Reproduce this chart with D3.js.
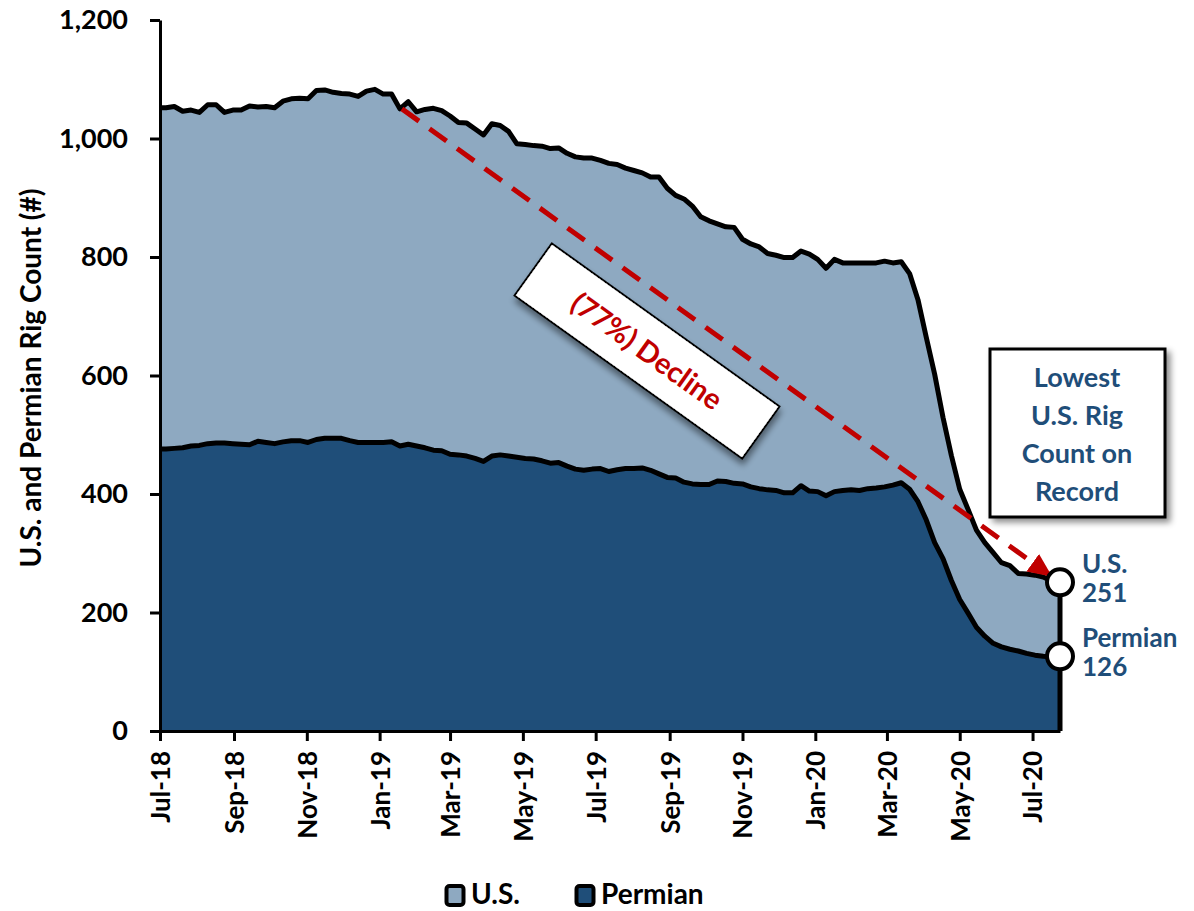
<!DOCTYPE html>
<html>
<head>
<meta charset="utf-8">
<script src="https://cdn.jsdelivr.net/npm/d3@7"></script>
<style>
  html, body { margin: 0; padding: 0; background: #fff; }
  svg { display: block; font-family: Lato, "Open Sans", sans-serif; font-weight: 700; }
</style>
</head>
<body>
<svg id="chart" width="1194" height="911"></svg>
<script>
// ---------------- DATA ----------------
// Weekly (Friday) rig counts, 29-Jun-2018 .. 24-Jul-2020
const weekStart = "2018-06-29";
const weekEnd = "2020-07-24";

const usRigs = [
  1052,
  1052, 1054, 1046, 1048,
  1044, 1057, 1057, 1044, 1048,
  1048, 1055, 1053, 1054,
  1052, 1063, 1067, 1068,
  1067, 1081, 1082, 1078, 1076,
  1075, 1071, 1080, 1083,
  1075, 1075, 1050, 1062,
  1045, 1049, 1051, 1047,
  1038, 1027, 1026, 1016, 1006,
  1025, 1022, 1012, 991,
  990, 988, 987, 983, 984,
  975, 969, 967, 967,
  963, 958, 956, 950,
  946, 942, 935, 935, 916,
  904, 898, 886, 868,
  861, 856, 851, 850,
  830, 822, 817, 806, 803,
  799, 799, 810, 805,
  796, 781, 796, 790, 790,
  790, 790, 790, 793,
  790, 792, 772, 728,
  664, 602, 529, 465,
  408, 374, 339, 318, 301,
  284, 279, 266, 265,
  263, 260, 253, 251
];

const permianRigs = [
  476,
  476, 477, 478, 481,
  482, 485, 486, 486, 485,
  484, 483, 489, 487,
  485, 488, 490, 490,
  487, 492, 494, 494, 494,
  490, 487, 487, 487,
  487, 488, 481, 484,
  481, 478, 474, 473,
  467, 466, 464, 460, 455,
  464, 466, 464, 462,
  460, 459, 456, 452, 453,
  447, 442, 440, 442,
  443, 438, 441, 443,
  443, 444, 440, 434, 428,
  427, 420, 417, 416,
  416, 422, 421, 418,
  417, 412, 409, 407, 406,
  402, 402, 414, 405,
  404, 397, 404, 406, 407,
  406, 409, 410, 412,
  415, 419, 408, 387,
  356, 318, 291, 254,
  222, 199, 175, 160, 148,
  142, 138, 135, 131,
  128, 126, 125, 126
];

const yTickValues = [0, 200, 400, 600, 800, 1000, 1200];
const xAxisStart = "2018-07-01";
const xTickMonthStep = 2;
const seriesNames = ["U.S.", "Permian"];
const seriesColors = ["#8EA9C1", "#1F4E79"];
const declineLabel = "(77%) Decline";
const recordLines = ["Lowest", "U.S. Rig", "Count on", "Record"];
const endLabels = [["U.S.", "251"], ["Permian", "126"]];
const yTitle = "U.S. and Permian Rig Count (#)";

// ---------------- BUILD ----------------
(function () {
const parse = d3.timeParse("%Y-%m-%d");
const dates = d3.timeFriday.range(parse(weekStart), d3.timeDay.offset(parse(weekEnd), 1));
const n = Math.min(dates.length, usRigs.length, permianRigs.length);
const data = d3.range(n).map(i => ({ date: dates[i], us: usRigs[i], permian: permianRigs[i] }));

const svg = d3.select("#chart");
const pLeft = 160, pRight = 1060, pTop = 20, pBottom = 731;

const x = d3.scaleTime().domain([parse(xAxisStart), parse(weekEnd)]).range([pLeft, pRight]);
const y = d3.scaleLinear().domain([0, 1200]).range([pBottom, pTop]);

const defs = svg.append("defs");
defs.append("clipPath").attr("id", "plotClip")
  .append("rect").attr("x", pLeft).attr("y", 0).attr("width", pRight - pLeft + 10).attr("height", pBottom);
const sh = defs.append("filter").attr("id", "shadow").attr("x", "-20%").attr("y", "-20%").attr("width", "140%").attr("height", "140%");
sh.append("feDropShadow").attr("dx", 4).attr("dy", 4).attr("stdDeviation", 3)
  .attr("flood-color", "#000").attr("flood-opacity", 0.45);
defs.append("marker").attr("id", "arrowHead")
  .attr("viewBox", "0 0 10 10").attr("refX", 9).attr("refY", 5)
  .attr("markerUnits", "userSpaceOnUse").attr("markerWidth", 24).attr("markerHeight", 24)
  .attr("orient", "auto")
  .append("path").attr("d", "M0,0.5 L10,5 L0,9.5 Z").attr("fill", "#C00000");

const plot = svg.append("g").attr("clip-path", "url(#plotClip)");

const areaUS = d3.area().x(d => x(d.date)).y0(y(0)).y1(d => y(d.us));
const areaP = d3.area().x(d => x(d.date)).y0(y(0)).y1(d => y(d.permian));
const lineUS = d3.line().x(d => x(d.date)).y(d => y(d.us));
const lineP = d3.line().x(d => x(d.date)).y(d => y(d.permian));

plot.append("path").datum(data).attr("d", areaUS).attr("fill", seriesColors[0]);
plot.append("path").datum(data).attr("d", areaP).attr("fill", seriesColors[1]);
plot.append("path").datum(data).attr("d", lineUS).attr("fill", "none")
  .attr("stroke", "#000").attr("stroke-width", 5).attr("stroke-linejoin", "round");
plot.append("path").datum(data).attr("d", lineP).attr("fill", "none")
  .attr("stroke", "#000").attr("stroke-width", 5).attr("stroke-linejoin", "round");

const last = data[data.length - 1];
plot.append("line")
  .attr("x1", x(last.date)).attr("x2", x(last.date))
  .attr("y1", y(last.us)).attr("y2", y(0))
  .attr("stroke", "#000").attr("stroke-width", 5);

// Axes
const yAxis = svg.append("g").attr("transform", `translate(${pLeft},0)`)
  .call(d3.axisLeft(y).tickValues(yTickValues).tickFormat(d3.format(",")).tickSize(10).tickSizeOuter(0).tickPadding(22));
yAxis.select(".domain").attr("stroke", "#000").attr("stroke-width", 3);
yAxis.selectAll(".tick line").attr("stroke", "#000").attr("stroke-width", 3);
yAxis.selectAll(".tick text").attr("fill", "#000").style("font-size", "27px").style("font-weight", 700)
  .style("font-family", "Lato, sans-serif");

const xTicks = d3.timeMonth.range(parse(xAxisStart), d3.timeDay.offset(parse(weekEnd), 1), xTickMonthStep);
const xAxis = svg.append("g").attr("transform", `translate(0,${pBottom})`)
  .call(d3.axisBottom(x).tickValues(xTicks).tickFormat(d3.timeFormat("%b-%y")).tickSize(10).tickSizeOuter(0));
xAxis.select(".domain").attr("stroke", "#000").attr("stroke-width", 3);
xAxis.selectAll(".tick line").attr("stroke", "#000").attr("stroke-width", 3);
xAxis.selectAll(".tick text")
  .attr("transform", "rotate(-90)").attr("x", -20).attr("y", 0).attr("dy", "0.36em")
  .style("text-anchor", "end").attr("fill", "#000")
  .style("font-size", "26px").style("font-weight", 700).style("font-family", "Lato, sans-serif");

// Y title
svg.append("text")
  .attr("transform", `translate(41,378) rotate(-90)`)
  .attr("text-anchor", "middle")
  .style("font-size", "28px").attr("fill", "#000")
  .text(yTitle);

// Decline arrow
const startPt = data[29];
const ax1 = x(startPt.date) + 2, ay1 = y(startPt.us);
const ax2 = x(last.date), ay2 = y(last.us);
const ang = Math.atan2(ay2 - ay1, ax2 - ax1);
const shorten = 12;
svg.append("line")
  .attr("x1", ax1).attr("y1", ay1)
  .attr("x2", ax2 - shorten * Math.cos(ang)).attr("y2", ay2 - shorten * Math.sin(ang))
  .attr("stroke", "#C00000").attr("stroke-width", 5).attr("stroke-dasharray", "21,13")
  .attr("marker-end", "url(#arrowHead)");

// Rotated decline label box
const boxG = svg.append("g").attr("transform", "translate(647,351) rotate(35.6)");
boxG.append("rect").attr("x", -140).attr("y", -32).attr("width", 280).attr("height", 64)
  .attr("fill", "#fff").attr("stroke", "#000").attr("stroke-width", 2).attr("filter", "url(#shadow)");
boxG.append("text").attr("text-anchor", "middle").attr("dy", "0.36em")
  .attr("fill", "#C00000").style("font-size", "29px").text(declineLabel);

// End markers
[last.us, last.permian].forEach(v => {
  svg.append("circle").attr("cx", x(last.date)).attr("cy", y(v)).attr("r", 13)
    .attr("fill", "#fff").attr("stroke", "#000").attr("stroke-width", 4);
});

// End labels
const endVals = [last.us, last.permian];
endLabels.forEach((lines, i) => {
  lines.forEach((l, j) => {
    svg.append("text").attr("x", 1082).attr("y", y(endVals[i]) - 9 + j * 29)
      .attr("fill", "#1F4E79").style("font-size", "26px").text(l);
  });
});

// Record box
const rb = svg.append("g");
rb.append("rect").attr("x", 990).attr("y", 349).attr("width", 175).attr("height", 168)
  .attr("fill", "#fff").attr("stroke", "#000").attr("stroke-width", 3).attr("filter", "url(#shadow)");
recordLines.forEach((l, i) => {
  rb.append("text").attr("x", 1077).attr("y", 387 + i * 38).attr("text-anchor", "middle")
    .attr("fill", "#1F4E79").style("font-size", "27px").text(l);
});

// Legend
const legend = svg.append("g");
const legendItems = [{ x: 445, tx: 471 }, { x: 575, tx: 601 }];
seriesNames.forEach((name, i) => {
  legend.append("rect").attr("x", legendItems[i].x + 1.5).attr("y", 886).attr("width", 17).attr("height", 19)
    .attr("rx", 3).attr("fill", seriesColors[i]).attr("stroke", "#000").attr("stroke-width", 4);
  legend.append("text").attr("x", legendItems[i].tx).attr("y", 904)
    .attr("fill", "#000").style("font-size", "28px").text(name);
});
})();
</script>
</body>
</html>
